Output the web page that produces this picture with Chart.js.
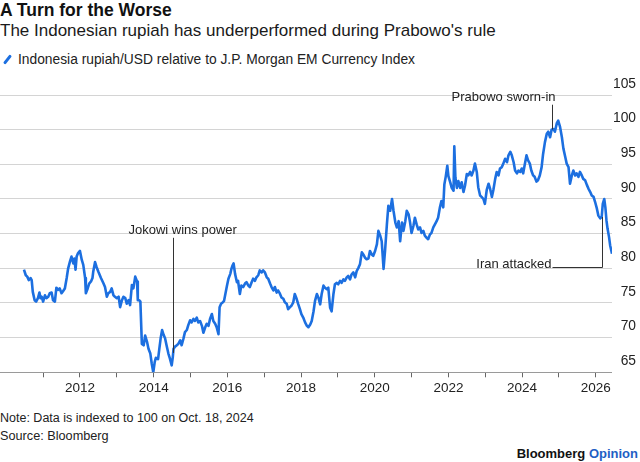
<!DOCTYPE html>
<html>
<head>
<meta charset="utf-8">
<script src="https://cdn.jsdelivr.net/npm/chart.js@4.4.1/dist/chart.umd.min.js"></script>
<style>
  html, body { margin: 0; padding: 0; background: #fff; }
  body { width: 640px; height: 462px; position: relative; overflow: hidden;
         font-family: 'Liberation Sans', Arial, sans-serif; color: #111; }
  .t { position: absolute; left: 0; white-space: nowrap; }
  #title { top: 0; font-size: 17.5px; line-height: 20px; font-weight: bold; }
  #sub { top: 21px; font-size: 17px; line-height: 20px; color: #1a1a1a; }
  #legend { top: 52px; font-size: 13.8px; line-height: 16px; color: #222; padding-left: 18px; }
  #legend .sw { position: absolute; left: 6px; top: 2px; width: 3px; height: 11px;
                background: #1c6fe0; border-radius: 1.5px; transform: rotate(38deg); }
  #note { top: 411px; font-size: 12.5px; line-height: 15px; color: #222; }
  #src { top: 429px; font-size: 12.7px; line-height: 15px; color: #222; }
  #brand { position: absolute; right: 2px; top: 446px; font-size: 13px; line-height: 15px; font-weight: bold; color: #111; }
  #brand span { color: #1f5fc4; }
  #wrap { position: absolute; left: 0; top: 70px; width: 640px; height: 330px; }
</style>
</head>
<body>
<div id="title" class="t">A Turn for the Worse</div>
<div id="sub" class="t">The Indonesian rupiah has underperformed during Prabowo's rule</div>
<div id="legend" class="t"><span class="sw"></span>Indonesia rupiah/USD relative to J.P. Morgan EM Currency Index</div>
<div id="wrap"><canvas id="myChart"></canvas></div>
<div id="note" class="t">Note: Data is indexed to 100 on Oct. 18, 2024</div>
<div id="src" class="t">Source: Bloomberg</div>
<div id="brand">Bloomberg <span>Opinion</span></div>

<script>
// dates as decimal years
var dates = [
  2010.48, 2010.53, 2010.57, 2010.61, 2010.66, 2010.69, 2010.72, 2010.77, 2010.81, 2010.86,
  2010.90, 2010.93, 2010.96, 2011.00, 2011.05, 2011.09, 2011.14, 2011.18, 2011.23, 2011.27,
  2011.32, 2011.36, 2011.41, 2011.45, 2011.50, 2011.54, 2011.59, 2011.64, 2011.68, 2011.73,
  2011.77, 2011.82, 2011.85, 2011.88, 2011.91, 2011.95, 2012.00, 2012.05, 2012.09, 2012.14,
  2012.16, 2012.21, 2012.25, 2012.30, 2012.34, 2012.36, 2012.41, 2012.45, 2012.50, 2012.57,
  2012.64, 2012.68, 2012.73, 2012.77, 2012.82, 2012.86, 2012.91, 2012.95, 2013.00, 2013.05,
  2013.09, 2013.14, 2013.18, 2013.23, 2013.27, 2013.32, 2013.36, 2013.41, 2013.45, 2013.50,
  2013.55, 2013.57, 2013.61, 2013.64, 2013.68, 2013.73, 2013.77, 2013.82, 2013.86, 2013.91,
  2013.95, 2013.99, 2014.03, 2014.06, 2014.12, 2014.15, 2014.19, 2014.23, 2014.27, 2014.31,
  2014.35, 2014.40, 2014.44, 2014.49, 2014.52, 2014.54, 2014.58, 2014.63, 2014.67, 2014.72,
  2014.76, 2014.81, 2014.85, 2014.90, 2014.94, 2014.99, 2015.03, 2015.08, 2015.12, 2015.17,
  2015.21, 2015.26, 2015.31, 2015.35, 2015.40, 2015.44, 2015.49, 2015.53, 2015.58, 2015.62,
  2015.67, 2015.71, 2015.76, 2015.79, 2015.83, 2015.88, 2015.91, 2015.94, 2015.99, 2016.03,
  2016.08, 2016.11, 2016.14, 2016.17, 2016.21, 2016.26, 2016.29, 2016.34, 2016.38, 2016.43,
  2016.48, 2016.52, 2016.57, 2016.61, 2016.66, 2016.70, 2016.75, 2016.79, 2016.84, 2016.88,
  2016.93, 2016.97, 2017.02, 2017.07, 2017.11, 2017.16, 2017.20, 2017.25, 2017.29, 2017.34,
  2017.38, 2017.43, 2017.47, 2017.52, 2017.56, 2017.61, 2017.65, 2017.70, 2017.74, 2017.79,
  2017.83, 2017.88, 2017.92, 2017.97, 2018.01, 2018.06, 2018.11, 2018.16, 2018.20, 2018.25,
  2018.29, 2018.34, 2018.38, 2018.43, 2018.47, 2018.52, 2018.56, 2018.61, 2018.65, 2018.70,
  2018.74, 2018.79, 2018.83, 2018.88, 2018.92, 2018.97, 2019.01, 2019.06, 2019.10, 2019.15,
  2019.19, 2019.24, 2019.28, 2019.33, 2019.37, 2019.42, 2019.47, 2019.51, 2019.56, 2019.60,
  2019.65, 2019.69, 2019.74, 2019.78, 2019.83, 2019.87, 2019.92, 2019.96, 2020.01, 2020.06,
  2020.10, 2020.15, 2020.19, 2020.24, 2020.28, 2020.33, 2020.37, 2020.42, 2020.47, 2020.51,
  2020.56, 2020.60, 2020.65, 2020.69, 2020.74, 2020.78, 2020.83, 2020.87, 2020.92, 2020.96,
  2021.00, 2021.05, 2021.09, 2021.14, 2021.18, 2021.23, 2021.27, 2021.32, 2021.36, 2021.41,
  2021.45, 2021.50, 2021.54, 2021.59, 2021.63, 2021.68, 2021.72, 2021.77, 2021.81, 2021.86,
  2021.89, 2021.93, 2021.97, 2022.00, 2022.05, 2022.09, 2022.14, 2022.16, 2022.19, 2022.23,
  2022.27, 2022.32, 2022.36, 2022.41, 2022.45, 2022.50, 2022.54, 2022.59, 2022.63, 2022.68,
  2022.72, 2022.77, 2022.81, 2022.86, 2022.90, 2022.95, 2022.99, 2023.04, 2023.09, 2023.13,
  2023.18, 2023.22, 2023.27, 2023.31, 2023.36, 2023.40, 2023.45, 2023.49, 2023.54, 2023.59,
  2023.63, 2023.68, 2023.72, 2023.77, 2023.81, 2023.86, 2023.90, 2023.95, 2023.99, 2024.03,
  2024.07, 2024.12, 2024.16, 2024.21, 2024.25, 2024.30, 2024.34, 2024.39, 2024.43, 2024.48,
  2024.53, 2024.57, 2024.62, 2024.67, 2024.71, 2024.76, 2024.80, 2024.85, 2024.89, 2024.94,
  2024.98, 2025.03, 2025.08, 2025.12, 2025.17, 2025.21, 2025.26, 2025.30, 2025.35, 2025.39,
  2025.44, 2025.48, 2025.53, 2025.57, 2025.62, 2025.66, 2025.71, 2025.76, 2025.80, 2025.85,
  2025.89, 2025.94, 2025.98, 2026.03, 2026.07, 2026.12, 2026.16, 2026.19, 2026.23, 2026.26,
  2026.29, 2026.32, 2026.36, 2026.39, 2026.44
];
var rupiah = [
  79.8, 79.0, 78.8, 78.3, 78.6, 78.3, 76.6, 75.4, 75.2, 75.7,
  76.5, 75.7, 75.9, 75.2, 76.1, 75.7, 75.9, 76.4, 76.5, 75.4,
  75.2, 77.2, 76.9, 77.1, 76.4, 76.7, 77.1, 78.6, 80.0, 81.0,
  81.7, 80.7, 81.4, 79.8, 81.7, 82.2, 82.5, 81.2, 80.5, 78.6,
  76.4, 77.1, 77.8, 78.1, 78.6, 79.5, 80.9, 80.2, 79.5, 78.6,
  77.8, 77.3, 75.9, 76.4, 76.6, 77.1, 76.1, 75.9, 75.7, 75.9,
  74.4, 75.4, 75.9, 75.7, 74.9, 75.4, 74.7, 77.6, 77.1, 78.8,
  78.1, 75.4, 75.4, 75.2, 69.1, 68.9, 70.3, 69.4, 68.4, 67.7,
  66.2, 65.0, 66.5, 67.1, 66.9, 68.2, 69.9, 71.1, 70.4, 69.9,
  68.9, 67.7, 67.0, 66.0, 67.2, 68.4, 68.7, 68.9, 69.1, 69.6,
  68.9, 69.9, 70.8, 71.1, 71.8, 72.5, 72.2, 72.7, 72.4, 72.9,
  72.2, 72.4, 71.7, 70.7, 71.5, 72.0, 71.7, 72.7, 73.4, 72.4,
  72.0, 71.5, 70.5, 74.4, 74.9, 75.1, 75.3, 76.1, 77.5, 78.5,
  79.2, 79.9, 80.4, 80.7, 79.2, 78.0, 78.2, 76.3, 77.5, 77.3,
  77.8, 78.0, 77.5, 77.3, 78.0, 78.5, 78.2, 78.7, 79.0, 79.7,
  79.4, 79.7, 79.4, 78.7, 78.5, 77.8, 77.3, 76.8, 77.3, 76.5,
  76.8, 76.3, 75.8, 75.6, 75.1, 74.9, 74.1, 74.4, 74.6, 75.1,
  76.3, 75.6, 74.9, 74.1, 73.4, 72.9, 72.2, 71.7, 71.5, 71.9,
  72.4, 73.8, 75.3, 76.3, 75.8, 74.8, 76.3, 77.5, 77.2, 77.0,
  77.2, 74.3, 73.8, 76.3, 77.7, 77.9, 77.7, 78.2, 77.9, 78.4,
  78.2, 78.7, 78.9, 78.4, 79.1, 79.4, 78.7, 79.6, 80.1, 80.6,
  82.3, 82.0, 81.5, 81.3, 81.4, 82.5, 82.0, 81.8, 82.5, 83.5,
  85.4, 84.7, 83.9, 79.9, 82.5, 86.3, 89.0, 88.3, 90.0, 88.3,
  86.6, 85.9, 86.8, 83.9, 86.6, 85.4, 86.8, 88.3, 87.8, 86.6,
  85.1, 86.1, 87.3, 86.3, 85.6, 85.9, 85.1, 85.4, 84.7, 84.4,
  84.2, 84.9, 85.1, 85.9, 86.3, 86.8, 87.3, 88.8, 89.7, 88.8,
  92.1, 93.3, 94.8, 93.3, 92.4, 91.6, 91.2, 97.6, 93.1, 91.6,
  92.6, 91.6, 92.4, 91.0, 91.9, 93.6, 93.4, 93.9, 93.4, 94.1,
  95.1, 93.9, 91.7, 90.5, 90.3, 90.0, 89.3, 91.3, 92.2, 91.5,
  90.3, 91.3, 92.9, 93.9, 93.4, 94.4, 94.6, 95.1, 95.8, 95.3,
  96.3, 96.8, 96.3, 95.3, 94.1, 93.7, 94.1, 93.9, 94.4, 93.7,
  94.9, 96.3, 95.6, 95.1, 94.1, 93.4, 93.2, 92.5, 92.7, 93.4,
  94.6, 96.5, 98.2, 99.4, 99.7, 98.9, 100.0, 100.1, 99.7, 100.9,
  101.3, 100.4, 98.9, 97.3, 96.1, 95.1, 94.6, 92.2, 93.4, 94.1,
  93.4, 93.7, 93.2, 93.9, 93.4, 92.9, 92.7, 92.0, 91.5, 91.0,
  90.5, 90.3, 89.6, 88.6, 87.6, 87.2, 87.4, 89.3, 90.0, 88.8,
  86.9, 85.7, 84.5, 83.3, 82.1
];
var tickYears = [2011, 2012, 2013, 2014, 2015, 2016, 2017, 2018, 2019, 2020, 2021, 2022, 2023, 2024, 2025, 2026];
var tickValues = [65, 70, 75, 80, 85, 90, 95, 100, 105];

// annotations: [label, date]
var events = [
  ['Jokowi wins power', 2014.53],
  ['Prabowo sworn-in', 2024.81],
  ['Iran attacked', 2026.16]
];

var points = dates.map(function (d, i) { return { x: d, y: rupiah[i] }; });

function valueAt(x) {
  for (var i = 1; i < dates.length; i++) {
    if (dates[i] >= x) {
      var t = (x - dates[i - 1]) / (dates[i] - dates[i - 1]);
      return rupiah[i - 1] + t * (rupiah[i] - rupiah[i - 1]);
    }
  }
  return rupiah[rupiah.length - 1];
}

var FONT = "'Liberation Sans', Arial, sans-serif";

var notes = {
  id: 'notes',
  afterDatasetsDraw: function (chart) {
    var c = chart.ctx, xs = chart.scales.x, ys = chart.scales.y;
    c.save();
    c.strokeStyle = '#333';
    c.lineWidth = 1;
    c.fillStyle = '#222';
    c.font = '13px ' + FONT;
    c.textBaseline = 'middle';

    // Jokowi
    var jx = Math.round(xs.getPixelForValue(events[0][1])) + 0.5;
    c.beginPath();
    c.moveTo(jx, ys.getPixelForValue(84.4));
    c.lineTo(jx, ys.getPixelForValue(valueAt(events[0][1])));
    c.stroke();
    c.textAlign = 'left';
    c.fillText(events[0][0], jx - 45, ys.getPixelForValue(85.5));

    // Prabowo
    var px = Math.round(xs.getPixelForValue(events[1][1])) + 0.5;
    c.beginPath();
    c.moveTo(px, ys.getPixelForValue(103.6));
    c.lineTo(px, ys.getPixelForValue(valueAt(events[1][1])));
    c.stroke();
    c.textAlign = 'right';
    c.fillText(events[1][0], px + 3, ys.getPixelForValue(104.6));

    // Iran
    var ix = Math.round(xs.getPixelForValue(events[2][1])) + 0.5;
    var iy = Math.round(ys.getPixelForValue(80.2)) + 0.5;
    c.beginPath();
    c.moveTo(ix, ys.getPixelForValue(valueAt(events[2][1])));
    c.lineTo(ix, iy);
    c.lineTo(ix - 50, iy);
    c.stroke();
    c.textAlign = 'right';
    c.fillText(events[2][0], ix - 51, ys.getPixelForValue(80.5));
    c.restore();
  }
};

var ctx = document.getElementById('myChart').getContext('2d');
var myChart = new Chart(ctx, {
  type: 'line',
  data: {
    datasets: [{
      label: 'Indonesia rupiah/USD relative to J.P. Morgan EM Currency Index',
      data: points,
      borderColor: '#1c6fe0',
      borderWidth: 2.6,
      pointRadius: 0,
      tension: 0,
      borderJoinStyle: 'round'
    }]
  },
  options: {
    responsive: true,
    maintainAspectRatio: false,
    animation: false,
    layout: { padding: { top: 25, right: 4, left: 0, bottom: 0 } },
    plugins: {
      legend: { display: false },
      tooltip: { enabled: false }
    },
    scales: {
      x: {
        type: 'linear',
        min: 2009.83,
        max: 2026.44,
        afterBuildTicks: function (s) { s.ticks = tickYears.map(function (v) { return { value: v }; }); },
        afterFit: function (s) { s.height = 27.7; },
        grid: { drawOnChartArea: false, drawTicks: true, tickLength: 5, tickColor: '#666' },
        border: { display: false },
        ticks: {
          autoSkip: false,
          maxRotation: 0,
          padding: 3,
          color: '#222',
          font: { family: FONT, size: 13.5 },
          callback: function (v) { return v % 2 === 0 ? String(v) : ''; }
        }
      },
      y: {
        position: 'right',
        min: 65,
        max: 105,
        afterBuildTicks: function (s) { s.ticks = tickValues.map(function (v) { return { value: v }; }); },
        afterFit: function (s) { s.width = 24; },
        grid: {
          drawTicks: false,
          color: function (c) { return c.tick && c.tick.value === 65 ? '#9a9a9a' : '#d4d4d4'; }
        },
        border: { display: false },
        ticks: {
          padding: 1,
          crossAlign: 'far',
          labelOffset: -11,
          color: '#222',
          font: { family: FONT, size: 13.8 }
        }
      }
    }
  },
  plugins: [notes]
});
</script>
</body>
</html>
